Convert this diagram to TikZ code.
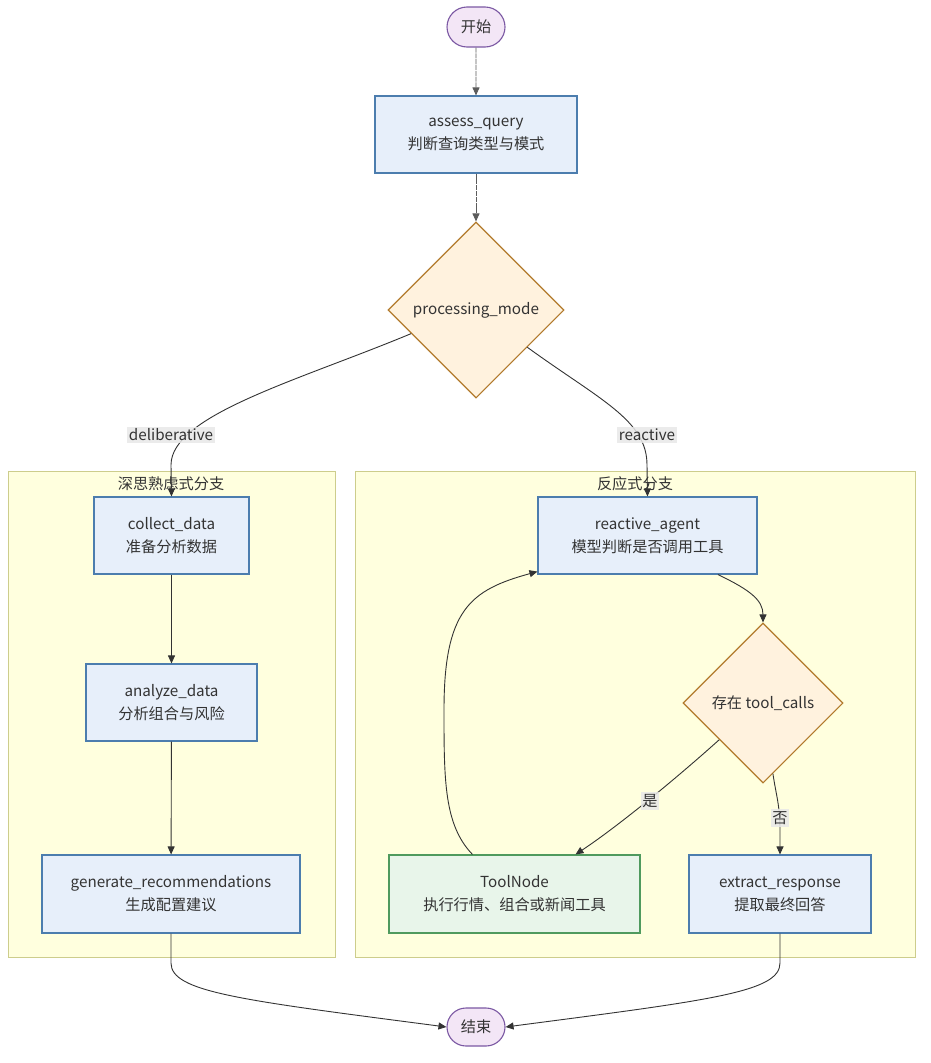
\documentclass[tikz,border=0pt]{standalone}
\usepackage{fontspec}
\setmainfont{Noto Sans CJK SC}
\usetikzlibrary{shapes.geometric,shapes.misc,arrows.meta,calc}
\definecolor{txt}{HTML}{333333}
\definecolor{boxfill}{HTML}{E7EFFA}
\definecolor{boxdraw}{HTML}{4C7DAE}
\definecolor{dfill}{HTML}{FFF2DE}
\definecolor{ddraw}{HTML}{B27A2C}
\definecolor{sfill}{HTML}{F3E6F6}
\definecolor{sdraw}{HTML}{7B58A3}
\definecolor{gfill}{HTML}{E8F5EA}
\definecolor{gdraw}{HTML}{4F9A5E}
\definecolor{cfill}{HTML}{FFFFDE}
\definecolor{cdraw}{HTML}{CDCD8C}
\definecolor{lblfill}{HTML}{E8E8E8}
\definecolor{edge}{HTML}{333333}
\begin{document}
\begin{tikzpicture}[x=1pt,y=-1pt,
  every node/.style={text=txt,font=\fontsize{15.2}{23}\selectfont,align=center},
  box/.style={rectangle,draw=boxdraw,fill=boxfill,line width=1.1pt,inner sep=0pt},
  toolbox/.style={rectangle,draw=gdraw,fill=gfill,line width=1.1pt,inner sep=0pt},
  dia/.style={diamond,draw=ddraw,fill=dfill,line width=1.1pt,inner sep=0pt,aspect=1},
  stad/.style={rounded rectangle,draw=sdraw,fill=sfill,line width=1.1pt,inner sep=0pt,minimum width=58pt},
  clus/.style={draw=cdraw,fill=cfill,line width=1pt},
  arr/.style={draw=edge,line width=0.9pt,-{Triangle[length=8pt,width=7pt]}},
  darr/.style={arr,draw=edge!80,dash pattern=on 5pt off 0.8pt},
  lbl/.style={fill=lblfill,fill opacity=0.85,text opacity=1,inner xsep=1.5pt,inner ysep=2pt}
]
\useasboundingbox (0,0) rectangle (931,1063);

% clusters
\draw[clus] (8,471) rectangle (335,957);
\draw[clus] (355,471) rectangle (915,957);
\node (tl) at (171,484) {深思熟虑式分支};
\node (tr) at (635,484) {反应式分支};

% nodes
\node[stad,minimum height=40pt] (start) at (476,27) {开始};
\node[box,minimum width=202pt,minimum height=77pt] (aq) at (476,134.5) {assess\_query\\判断查询类型与模式};
\node[dia,minimum width=176pt,minimum height=176pt] (pm) at (476,310) {processing\_mode};
\node[box,minimum width=155pt,minimum height=77pt] (cd) at (171.5,535.5) {collect\_data\\准备分析数据};
\node[box,minimum width=171pt,minimum height=77pt] (ad) at (171.5,702.5) {analyze\_data\\分析组合与风险};
\node[box,minimum width=258pt,minimum height=78pt] (gr) at (171,894) {generate\_recommendations\\生成配置建议};
\node[box,minimum width=219pt,minimum height=77pt] (ra) at (647.5,535.5) {reactive\_agent\\模型判断是否调用工具};
\node[dia,minimum width=160pt,minimum height=160pt] (tc) at (763,703) {存在 tool\_calls};
\node[toolbox,minimum width=251pt,minimum height=78pt] (tn) at (514.5,894) {ToolNode\\执行行情、组合或新闻工具};
\node[box,minimum width=182pt,minimum height=78pt] (ex) at (780,894) {extract\_response\\提取最终回答};
\node[stad,minimum height=38pt] (end) at (476,1027) {结束};

% edges
\draw[darr] (start) -- (aq);
\draw[darr] (aq) -- (pm);
\draw[arr] (pm.200) .. controls (300,380) and (171,415) .. (171,465) -- (cd.north);
\draw[arr] (pm.324) .. controls (600,400) and (647,420) .. (647,465) -- (ra.north);
\draw[arr] (cd) -- (ad);
\draw[arr] (ad) -- (gr);
\draw[arr] (ra.-29) .. controls (750,590) and (763,600) .. (tc.north);
\draw[arr] (tc.220) .. controls (680,775) and (620,825) .. ($(tn.north)+(61,0)$);
\draw[arr] (tc.-82) .. controls (776,795) and (780,805) .. (780,830) -- (ex.north);
\draw[arr] ($(tn.north)+(-42,0)$) .. controls (444,825) and (444,780) .. (444,710)
   .. controls (444,610) and (470,590) .. ($(ra.south west)+(0,-3)$);
\draw[arr] (gr.south) -- (171,963) .. controls (171,992) and (240,1000) .. (end.west);
\draw[arr] (ex.south) -- (780,963) .. controls (780,992) and (712,1000) .. (end.east);

% edge labels
\node[lbl] (l1) at (171,435) {deliberative};
\node[lbl] (l2) at (647,435) {reactive};
\node[lbl] (l3) at (650,801) {是};
\node[lbl] (l4) at (780,818) {否};
\end{tikzpicture}
\end{document}
